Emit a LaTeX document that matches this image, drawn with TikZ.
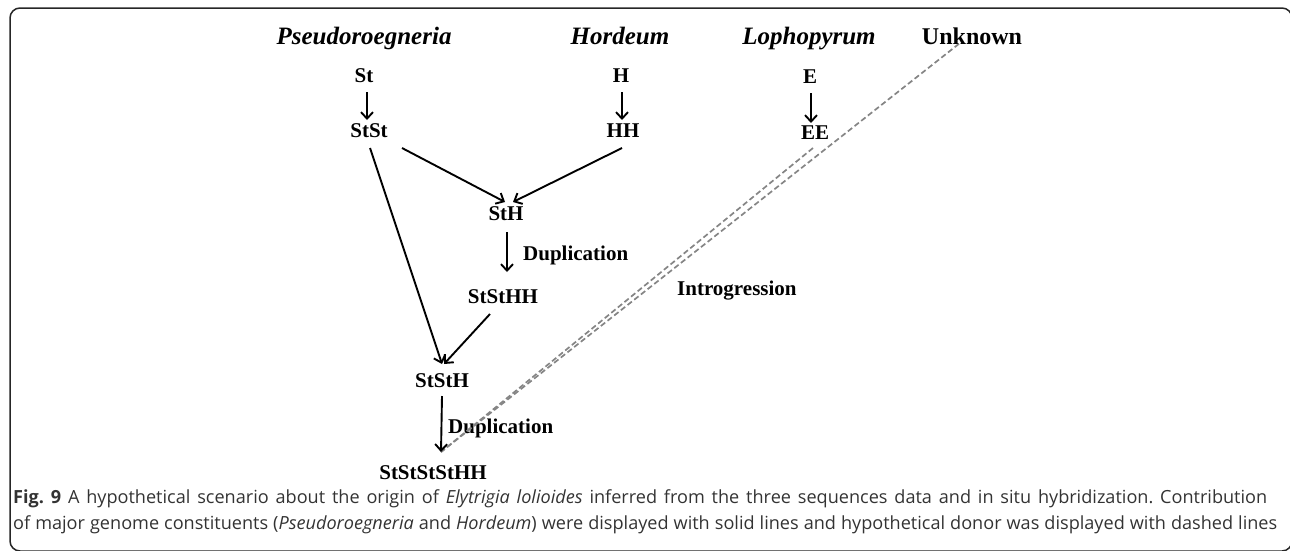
\documentclass[tikz,border=0pt]{standalone}
\usepackage{fontspec}
\setmainfont{Liberation Serif}
\newfontfamily\capfont{Open Sans}
\usetikzlibrary{arrows.meta,calc}
\definecolor{dashgray}{HTML}{858585}
\definecolor{capgray}{HTML}{333333}
\tikzset{
  lbl/.style={inner sep=0pt, font=\fontsize{21}{24}\selectfont\bfseries},
  hdr/.style={inner sep=0pt, anchor=base, font=\fontsize{25}{28}\selectfont\bfseries\itshape},
  hdrup/.style={inner sep=0pt, anchor=base, font=\fontsize{24}{28}\selectfont\bfseries},
  arr/.style={line width=1.9pt, -{Straight Barb[length=6.5pt,width=12pt,line width=1.9pt]}},
  dsh/.style={line width=1.7pt, dashgray, dash pattern=on 5.5pt off 3pt},
  captxt/.style={inner sep=0pt, anchor=west, text=capgray, font=\capfont\fontsize{18.1}{22}\selectfont\frenchspacing},
  framebox/.style={line width=1.5pt, black!85, rounded corners=10pt}
}
\begin{document}
\frenchspacing
\begin{tikzpicture}[x=1pt,y=-1pt]
\useasboundingbox (0,0) rectangle (1290,550);
\draw[framebox] (10,8) rectangle (1292,551);
% headers
\node[hdr] (hP) at (364,44) {Pseudoroegneria};
\node[hdr] (hH) at (620,44) {Hordeum};
\node[hdr] (hL) at (809,44) {Lophopyrum};
\node[hdrup] (hU) at (972,44) {Unknown};
% genomes
\node[lbl] (St) at (364,76) {St};
\node[lbl] (StSt) at (369,131) {StSt};
\node[lbl] (H) at (621,76) {H};
\node[lbl] (HH) at (623,131) {HH};
\node[lbl] (E) at (810,77) {E};
\node[lbl] (EE) at (815,133) {EE};
\node[lbl] (StH) at (506,214) {StH};
\node[lbl] (StStHH) at (503,297) {StStHH};
\node[lbl] (StStH) at (442,381) {StStH};
\node[lbl] (Final) at (433,473) {StStStStHH};
\node[lbl, anchor=west] (dup1) at (523,255) {Duplication};
\node[lbl, anchor=west] (dup2) at (448,428) {Duplication};
\node[lbl, anchor=west] (intro) at (677,291) {Introgression};
% dashed introgression
\coordinate (tip) at ($(Final)+(8,-21)$);
\draw[dsh] ($(hU)+(-13,8)$) -- (tip);
\draw[dsh] ($(EE)+(-2,15)$) -- (tip);
% solid arrows
\draw[arr] ($(St)+(3,16)$) -- ($(StSt)+(-2,-11)$);
\draw[arr] ($(H)+(1,16)$) -- ($(HH)+(-1,-11)$);
\draw[arr] ($(E)+(1,16)$) -- ($(EE)+(-4,-10)$);
\draw[arr] ($(StSt)+(33,17)$) -- ($(StH)+(-1,-12)$);
\draw[arr] ($(HH)+(-1,17)$) -- ($(StH)+(7,-12)$);
\draw[arr] ($(StSt)+(1,17)$) -- ($(StStH)+(0,-17)$);
\draw[arr] ($(StH)+(1,18)$) -- ($(StStHH)+(4,-25)$);
\draw[arr] ($(StStHH)+(-13,17)$) -- ($(StStH)+(2,-17)$);
\draw[arr] ($(StStH)+(0,15)$) -- (tip);
% caption
\node[captxt] (cap1) at (13,499) {\makebox[1254pt][s]{\textbf{Fig. 9} A hypothetical scenario about the origin of \textit{Elytrigia lolioides} inferred from the three sequences data and in situ hybridization. Contribution}};
\node[captxt] (cap2) at (13,525) {\makebox[1264pt][s]{of major genome constituents (\textit{Pseudoroegneria} and \textit{Hordeum}) were displayed with solid lines and hypothetical donor was displayed with dashed lines}};
\end{tikzpicture}
\end{document}
